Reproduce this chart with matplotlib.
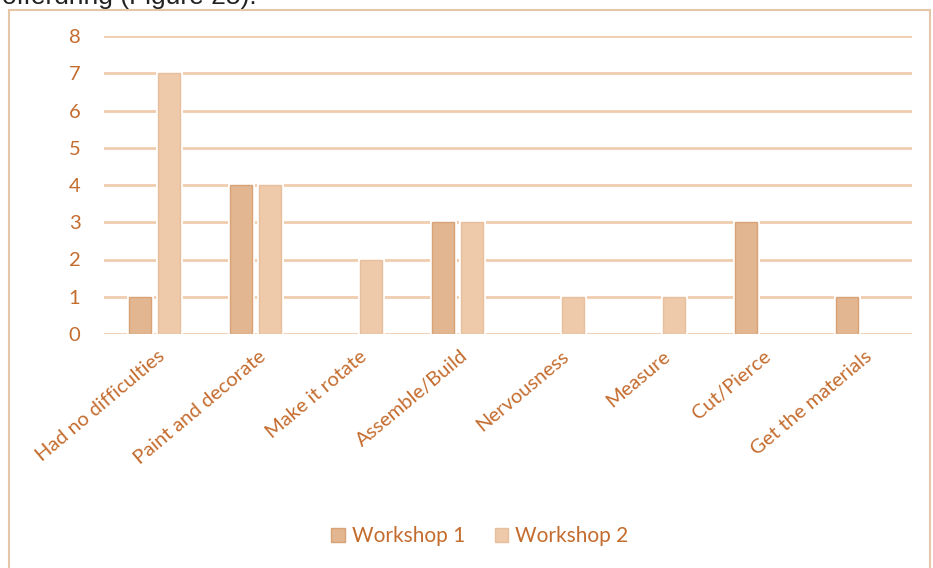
import matplotlib
matplotlib.use("Agg")
import matplotlib.pyplot as plt
import numpy as np
from matplotlib.transforms import ScaledTranslation
from matplotlib.patches import Rectangle

categories = ["Had no difficulties", "Paint and decorate", "Make it rotate",
              "Assemble/Build", "Nervousness", "Measure", "Cut/Pierce",
              "Get the materials"]
workshop1 = [1, 4, 0, 3, 0, 0, 3, 1]
workshop2 = [7, 4, 2, 3, 1, 1, 0, 0]
series_names = ["Workshop 1", "Workshop 2"]
yticks = [0, 1, 2, 3, 4, 5, 6, 7, 8]

TXT = "#C46C2E"
GRID = "#F0CDAF"
C1, E1 = "#E2B690", "#D9A276"
C2, E2 = "#EECAAA", "#E8BF9C"

plt.rcParams['font.family'] = ['Lato', 'DejaVu Sans']

W, H = 933, 568
fig = plt.figure(figsize=(W / 100, H / 100), dpi=100)

# chart frame
fig.patches.append(Rectangle((9 / W, -0.05), (921 / W), 1 - 10 / H + 0.05,
                             transform=fig.transFigure, fill=False,
                             edgecolor="#E6C6A8", linewidth=1.5))
# clipped document text at top (cut off in the reference as well)
fig.text(2 / W, 1 - 4 / H, "offerdring (Figure 25).", fontsize=19,
         family=['Liberation Sans', 'DejaVu Sans'], color="#222222",
         va='baseline', ha='left')

ax = fig.add_axes([104 / W, 1 - 334 / H, (912 - 104) / W, (334 - 36) / H])
x = np.arange(len(categories))
bw = 0.22
off = 0.145
for vals, o, fc, ec in [(workshop1, -off, C1, E1), (workshop2, off, C2, E2)]:
    v = np.array(vals, dtype=float)
    keep = v > 0
    ax.bar(x[keep] + o, v[keep], bw, color=fc, edgecolor='white', linewidth=3.5, zorder=3)
    ax.bar(x[keep] + o, v[keep], bw, color=fc, edgecolor=ec, linewidth=1.0, zorder=4)

ax.set_xlim(-0.5, len(categories) - 0.5)
ax.set_ylim(0, 8)
ax.set_yticks(yticks)
ax.yaxis.grid(True, color=GRID, linewidth=2, zorder=0)
ax.set_axisbelow(True)
for s in ax.spines.values():
    s.set_visible(False)
ax.tick_params(axis='both', length=0, colors=TXT, labelsize=14.5)
ax.tick_params(axis='y', pad=17)
for lab in ax.get_yticklabels():
    lab.set_color(TXT)

ax.set_xticks(x)
ax.set_xticklabels(categories, rotation=40, ha='right', va='center',
                   rotation_mode='anchor', fontsize=14.5, color=TXT)
for lab in ax.get_xticklabels():
    lab.set_transform(lab.get_transform() +
                      ScaledTranslation(0.08, -0.15, fig.dpi_scale_trans))

handles = [Rectangle((0, 0), 1, 1, facecolor=C1, edgecolor=E1, linewidth=1),
           Rectangle((0, 0), 1, 1, facecolor=C2, edgecolor=E2, linewidth=1)]
leg = fig.legend(handles, series_names, loc='center',
                 bbox_to_anchor=(480 / W, 1 - 536 / H), ncol=2, frameon=False,
                 handlelength=0.65, handleheight=0.65, handletextpad=0.35,
                 columnspacing=1.4, fontsize=15)
for t in leg.get_texts():
    t.set_color(TXT)

fig.savefig("out.png", dpi=100, facecolor='white')
